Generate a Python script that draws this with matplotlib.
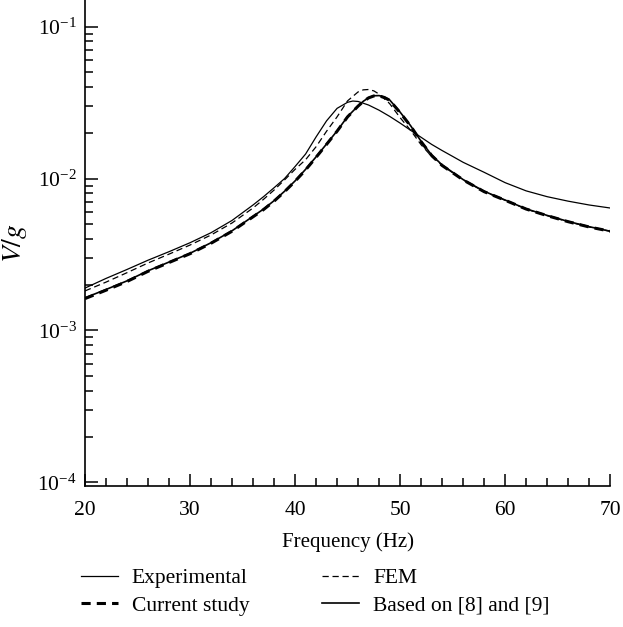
import matplotlib
matplotlib.use("Agg")
import matplotlib.pyplot as plt
from matplotlib.ticker import LogLocator, MultipleLocator, NullFormatter

plt.rcParams['font.family'] = ['Liberation Serif', 'DejaVu Serif']
plt.rcParams['mathtext.fontset'] = 'stix'

# values
freq_exp = [20, 22, 24, 26, 28, 30, 32, 34, 36, 37, 38, 39, 40, 41, 42, 43, 44, 45, 45.5,
            46, 47, 48, 49, 50, 51, 52, 53, 54, 55, 56, 58, 60, 62, 64, 66, 68, 70]
v_exp = [1.90e-3, 2.20e-3, 2.52e-3, 2.90e-3, 3.30e-3, 3.78e-3, 4.40e-3, 5.30e-3, 6.70e-3,
         7.60e-3, 8.70e-3, 1.00e-2, 1.20e-2, 1.45e-2, 1.88e-2, 2.40e-2, 2.90e-2, 3.18e-2,
         3.24e-2, 3.22e-2, 3.05e-2, 2.82e-2, 2.57e-2, 2.32e-2, 2.08e-2, 1.87e-2, 1.68e-2,
         1.53e-2, 1.40e-2, 1.28e-2, 1.10e-2, 9.40e-3, 8.30e-3, 7.60e-3, 7.10e-3, 6.70e-3, 6.40e-3]

freq_cur = [20, 22, 24, 26, 28, 30, 32, 34, 36, 37, 38, 39, 40, 41, 42, 43, 44, 45, 46, 46.5,
            47, 47.5, 48, 48.5, 49, 50, 51, 52, 53, 54, 56, 58, 60, 62, 64, 66, 68, 70]
v_cur = [1.62e-3, 1.84e-3, 2.10e-3, 2.45e-3, 2.80e-3, 3.20e-3, 3.75e-3, 4.50e-3, 5.60e-3,
         6.25e-3, 7.10e-3, 8.20e-3, 9.60e-3, 1.14e-2, 1.38e-2, 1.68e-2, 2.05e-2, 2.55e-2,
         3.00e-2, 3.22e-2, 3.40e-2, 3.50e-2, 3.50e-2, 3.42e-2, 3.28e-2, 2.72e-2, 2.22e-2,
         1.75e-2, 1.42e-2, 1.22e-2, 9.80e-3, 8.20e-3, 7.20e-3, 6.30e-3, 5.70e-3, 5.20e-3,
         4.80e-3, 4.50e-3]

freq_fem = [20, 22, 24, 26, 28, 30, 32, 34, 36, 37, 38, 39, 40, 41, 42, 43, 44, 45, 46, 46.5,
            47, 47.5, 48, 49, 50, 51, 52, 53, 54, 56, 58, 60, 62, 64, 66, 68, 70]
v_fem = [1.82e-3, 2.08e-3, 2.40e-3, 2.78e-3, 3.18e-3, 3.65e-3, 4.25e-3, 5.10e-3, 6.40e-3,
         7.30e-3, 8.40e-3, 9.80e-3, 1.15e-2, 1.33e-2, 1.62e-2, 2.05e-2, 2.55e-2, 3.25e-2,
         3.72e-2, 3.84e-2, 3.86e-2, 3.78e-2, 3.60e-2, 3.12e-2, 2.52e-2, 2.08e-2, 1.67e-2,
         1.40e-2, 1.22e-2, 9.80e-3, 8.20e-3, 7.20e-3, 6.30e-3, 5.70e-3, 5.20e-3, 4.80e-3, 4.50e-3]

freq_ref = [20, 22, 24, 26, 28, 30, 32, 34, 36, 37, 38, 39, 40, 41, 42, 43, 44, 45, 46, 46.5,
            47, 47.5, 48, 48.5, 49, 50, 51, 52, 53, 54, 56, 58, 60, 62, 64, 66, 68, 70]
v_ref = [1.64e-3, 1.86e-3, 2.12e-3, 2.47e-3, 2.82e-3, 3.22e-3, 3.78e-3, 4.53e-3, 5.64e-3,
         6.30e-3, 7.15e-3, 8.25e-3, 9.65e-3, 1.15e-2, 1.39e-2, 1.69e-2, 2.06e-2, 2.56e-2,
         3.01e-2, 3.23e-2, 3.41e-2, 3.51e-2, 3.52e-2, 3.44e-2, 3.30e-2, 2.74e-2, 2.23e-2,
         1.76e-2, 1.43e-2, 1.23e-2, 9.85e-3, 8.25e-3, 7.22e-3, 6.32e-3, 5.72e-3, 5.22e-3,
         4.82e-3, 4.50e-3]

fig = plt.figure(figsize=(6.23, 6.27), dpi=100)
ax = fig.add_axes([0.1364, 0.225, 0.843, 0.775])

ax.plot(freq_exp, v_exp, color='black', lw=0.9, label='Experimental')
ax.plot(freq_cur, v_cur, color='black', lw=2.2, ls=(0, (3, 2)), label='Current study')
ax.plot(freq_fem, v_fem, color='black', lw=0.9, ls=(0, (5, 3)), label='FEM')
ax.plot(freq_ref, v_ref, color='black', lw=1.2, label='Based on [8] and [9]')

ax.set_yscale('log')
ax.set_xlim(20, 70)
ax.set_ylim(10 ** -4.024, 10 ** -0.824)

ax.xaxis.set_major_locator(MultipleLocator(10))
ax.xaxis.set_minor_locator(MultipleLocator(2))
ax.yaxis.set_major_locator(LogLocator(base=10, numticks=10))
ax.yaxis.set_minor_locator(LogLocator(base=10, subs=range(2, 10), numticks=20))
ax.yaxis.set_minor_formatter(NullFormatter())

for s in ['top', 'right']:
    ax.spines[s].set_visible(False)
for s in ['left', 'bottom']:
    ax.spines[s].set_linewidth(1.2)

ax.tick_params(which='both', direction='in', labelsize=15.5, width=1.1)
ax.tick_params(which='major', length=9)
ax.tick_params(which='minor', length=5.5)
ax.tick_params(axis='y', pad=6)
ax.tick_params(axis='x', pad=11)

ax.set_xlabel('Frequency (Hz)', fontsize=15, labelpad=9)
ax.set_ylabel('$V/g$', fontsize=20, labelpad=6)

fig.legend(loc='center', bbox_to_anchor=(0.506, 0.056), ncol=2, frameon=False,
           fontsize=15.5, handlelength=1.7, columnspacing=3.4, handletextpad=0.65,
           labelspacing=0.35)

fig.savefig('out.png', dpi=100)
